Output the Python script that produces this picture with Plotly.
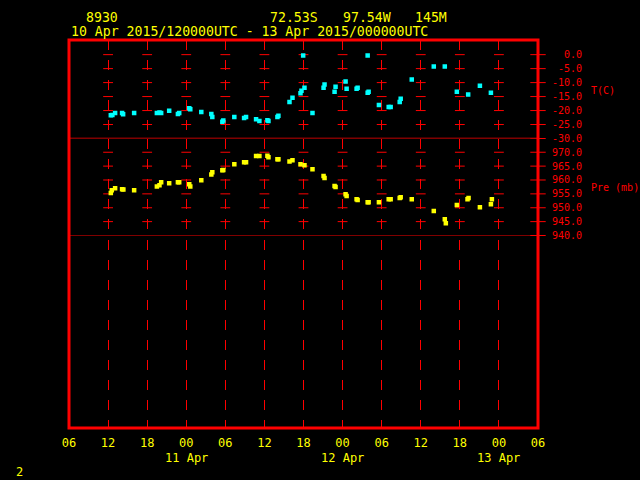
import plotly.graph_objects as go

# ---------------- data (hours since 10 Apr 2015 00 UTC) ----------------
temp_hours = [12.42, 12.66, 13.08, 14.15, 14.31, 16.0, 19.49, 19.89, 20.15, 21.38,
              22.72, 22.92, 24.46, 24.62, 26.31, 27.85, 28.0, 29.54, 29.69, 31.38,
              32.88, 33.18, 34.72, 35.23, 36.46, 36.62, 38.0, 38.15, 39.85, 40.31,
              41.54, 41.69, 41.95, 42.15, 43.38, 45.08, 45.23, 46.77, 46.92, 48.46,
              48.62, 50.15, 50.31, 51.85, 51.85, 52.0, 53.58, 55.08, 55.38, 56.77,
              56.92, 58.62, 62.0, 63.69, 65.54, 67.28, 69.08, 70.77]
temp_values = [-21.7, -21.6, -20.9, -20.9, -21.3, -20.9, -20.9, -20.7, -20.9, -20.1,
               -21.2, -20.9, -19.2, -19.5, -20.5, -21.2, -22.3, -24.0, -23.6, -22.3,
               -22.7, -22.3, -23.1, -23.7, -23.5, -23.7, -22.3, -21.9, -16.9, -15.4,
               -13.8, -12.9, -0.3, -11.8, -20.9, -11.8, -10.7, -13.3, -11.5, -9.6,
               -12.2, -12.2, -11.8, -0.3, -13.6, -13.3, -18.0, -18.7, -18.7, -16.9,
               -15.8, -8.9, -4.2, -4.2, -13.3, -14.3, -11.1, -13.6]

pres_hours = [12.42, 12.57, 13.08, 14.15, 14.35, 16.0, 19.49, 19.89, 20.15, 21.38,
              22.72, 22.92, 24.46, 24.62, 26.31, 27.85, 28.0, 29.54, 29.69, 31.38,
              32.88, 33.18, 34.72, 35.23, 36.46, 36.62, 38.0, 38.15, 39.85, 40.31,
              41.54, 42.15, 43.38, 45.08, 45.23, 46.77, 46.92, 48.46, 48.62, 50.15,
              50.31, 51.85, 52.0, 53.58, 55.08, 55.38, 56.77, 56.92, 58.62, 62.0,
              63.69, 63.85, 65.54, 67.18, 67.34, 69.08, 70.77, 70.92]
pres_values = [955.3, 956.3, 957.0, 956.7, 956.6, 956.3, 957.7, 958.1, 959.2, 958.8,
               959.2, 959.2, 958.5, 957.7, 959.9, 962.0, 962.8, 963.5, 963.6, 965.7,
               966.4, 966.4, 968.6, 968.6, 968.7, 968.2, 967.5, 967.5, 966.7, 967.1,
               965.7, 965.3, 963.9, 961.4, 960.7, 957.8, 957.5, 954.9, 954.2, 953.1,
               952.8, 952.0, 952.0, 952.0, 953.1, 953.1, 953.5, 953.8, 953.1, 948.8,
               945.9, 944.4, 951.0, 953.1, 953.5, 950.2, 951.3, 953.1]

x_tick_vals = [6, 12, 18, 24, 30, 36, 42, 48, 54, 60, 66, 72, 78]
x_tick_text = ["06", "12", "18", "00", "06", "12", "18", "00", "06", "12", "18", "00", "06"]
date_vals = [24, 48, 72]
date_text = ["11 Apr", "12 Apr", "13 Apr"]

temp_ticks = [0, -5, -10, -15, -20, -25, -30]
pres_ticks = [970, 965, 960, 955, 950, 945, 940]

title_station = "8930"
title_lat = "72.53S"
title_lon = "97.54W"
title_elev = "145M"
title_period = "10 Apr 2015/120000UTC - 13 Apr 2015/000000UTC"

# ---------------- styling ----------------
RED = "#FF0000"
YEL = "#FFFF00"
CYAN = "#00FFFF"
MONO = "DejaVu Sans Mono"

W, H = 640, 480
ML, MR, MT, MB = 69, 102, 40, 52
PW, PH = W - ML - MR, H - MT - MB


def px_x(px):
    return (px - ML) / PW


def px_y(py):
    return (H - MB - py) / PH


def pad(s, n=5):
    return "\u00a0" * (n - len(s)) + s


T_DOM = [px_y(138.5), 1.0]
P_DOM = [px_y(235.5), px_y(138.5)]
T_RANGE = [-30, 5.24]
P_RANGE = [940, 974.95]

fig = go.Figure()

# invisible trace so the full-height base subplot (x, y) exists
fig.add_trace(go.Scatter(x=[x_tick_vals[0], x_tick_vals[-1]], y=[0, 0], xaxis="x", yaxis="y",
                         mode="none", hoverinfo="skip", showlegend=False))

# crosses at grid intersections
grid_x = [v for v in x_tick_vals if 6 < v < 78]
cx, cy = [], []
for gx in grid_x:
    for t in temp_ticks[:-1]:
        cx.append(gx); cy.append(t)
fig.add_trace(go.Scatter(x=cx, y=cy, xaxis="x", yaxis="y2", mode="markers",
                         marker=dict(symbol="line-ew", size=7, line=dict(color=RED, width=1)),
                         hoverinfo="skip", showlegend=False))
cx, cy = [], []
for gx in grid_x:
    for p in pres_ticks[:-1]:
        cx.append(gx); cy.append(p)
fig.add_trace(go.Scatter(x=cx, y=cy, xaxis="x", yaxis="y3", mode="markers",
                         marker=dict(symbol="line-ew", size=7, line=dict(color=RED, width=1)),
                         hoverinfo="skip", showlegend=False))
# right border ticks
fig.add_trace(go.Scatter(x=[x_tick_vals[-1]] * len(temp_ticks), y=temp_ticks, xaxis="x", yaxis="y2",
                         mode="markers", cliponaxis=False,
                         marker=dict(symbol="line-ew", size=11, line=dict(color=RED, width=1)),
                         hoverinfo="skip", showlegend=False))
fig.add_trace(go.Scatter(x=[x_tick_vals[-1]] * len(pres_ticks), y=pres_ticks, xaxis="x", yaxis="y3",
                         mode="markers", cliponaxis=False,
                         marker=dict(symbol="line-ew", size=11, line=dict(color=RED, width=1)),
                         hoverinfo="skip", showlegend=False))

# data
fig.add_trace(go.Scatter(x=temp_hours, y=temp_values, xaxis="x", yaxis="y2", mode="markers",
                         marker=dict(symbol="square", size=4.5, color=CYAN, line=dict(width=0)),
                         showlegend=False))
fig.add_trace(go.Scatter(x=pres_hours, y=pres_values, xaxis="x", yaxis="y3", mode="markers",
                         marker=dict(symbol="square", size=4.5, color=YEL, line=dict(width=0)),
                         showlegend=False))

shapes = [
    dict(type="line", xref="paper", yref="y2", x0=0, x1=1, y0=-30, y1=-30,
         line=dict(color=RED, width=1.5)),
    dict(type="line", xref="paper", yref="y3", x0=0, x1=1, y0=940, y1=940,
         line=dict(color=RED, width=1.2)),
    dict(type="rect", xref="paper", yref="paper", x0=0, x1=1, y0=0, y1=1,
         line=dict(color=RED, width=3)),
]

annotations = []
for xv, txt in zip(date_vals, date_text):
    annotations.append(dict(x=xv, xref="x", y=px_y(458), yref="paper", text=txt,
                            showarrow=False, xanchor="center", yanchor="middle",
                            font=dict(family=MONO, size=12, color=YEL)))
for px, txt in [(84, title_station), (268, title_lat), (341, title_lon), (413, title_elev)]:
    annotations.append(dict(x=px_x(px), xref="paper", y=px_y(18), yref="paper", text=txt,
                            showarrow=False, xanchor="left", yanchor="middle",
                            font=dict(family=MONO, size=13.2, color=YEL)))
annotations.append(dict(x=px_x(69), xref="paper", y=px_y(31.5), yref="paper", text=title_period,
                        showarrow=False, xanchor="left", yanchor="middle",
                        font=dict(family=MONO, size=13.2, color=YEL)))
annotations.append(dict(x=px_x(589), xref="paper", y=px_y(90), yref="paper", text="T(C)",
                        showarrow=False, xanchor="left", yanchor="middle",
                        font=dict(family=MONO, size=10, color=RED)))
annotations.append(dict(x=px_x(589), xref="paper", y=px_y(187), yref="paper", text="Pre (mb)",
                        showarrow=False, xanchor="left", yanchor="middle",
                        font=dict(family=MONO, size=10, color=RED)))
annotations.append(dict(x=px_x(19), xref="paper", y=px_y(472), yref="paper", text="2",
                        showarrow=False, xanchor="center", yanchor="middle",
                        font=dict(family=MONO, size=12, color=YEL)))

fig.update_layout(
    width=W, height=H,
    margin=dict(l=ML, r=MR, t=MT, b=MB, pad=0),
    paper_bgcolor="black", plot_bgcolor="black",
    hovermode=False,
    showlegend=False,
    xaxis=dict(range=[6, 78], domain=[0, 1], anchor="y",
               tickmode="array", tickvals=x_tick_vals, ticktext=x_tick_text,
               ticks="", showgrid=True, gridcolor=RED, gridwidth=1, griddash="10px,10px",
               zeroline=False, showline=False,
               tickfont=dict(family=MONO, size=12, color=YEL), ticklabelstandoff=6),
    yaxis=dict(range=[0, 1], domain=[0, 1], anchor="x", visible=False),
    yaxis2=dict(range=T_RANGE, domain=T_DOM, anchor="x", side="right",
                tickmode="array", tickvals=temp_ticks,
                ticktext=[pad(f"{v:.1f}") for v in temp_ticks],
                ticks="", showgrid=False, zeroline=False, showline=False,
                tickfont=dict(family=MONO, size=10, color=RED), ticklabelstandoff=13),
    yaxis3=dict(range=P_RANGE, domain=P_DOM, anchor="x", side="right",
                tickmode="array", tickvals=pres_ticks,
                ticktext=[pad(f"{v:.1f}") for v in pres_ticks],
                ticks="", showgrid=False, zeroline=False, showline=False,
                tickfont=dict(family=MONO, size=10, color=RED), ticklabelstandoff=13),
    shapes=shapes,
    annotations=annotations,
)

fig.write_html("out.html", config={"displayModeBar": False, "staticPlot": True},
               post_script="document.body.style.margin='0';document.body.style.overflow='hidden';")
